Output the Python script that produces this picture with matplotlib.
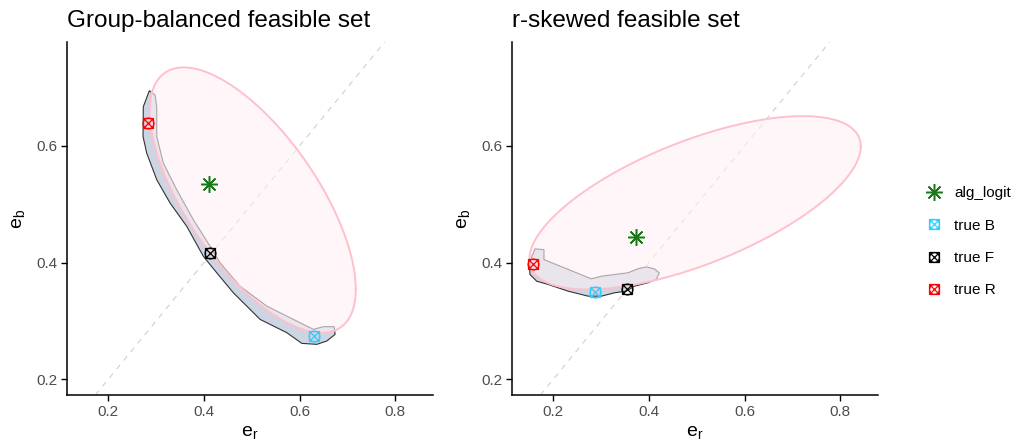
import numpy as np
import matplotlib
matplotlib.use("Agg")
import matplotlib.pyplot as plt
from matplotlib.patches import Polygon
from matplotlib.lines import Line2D

plt.rcParams['font.family'] = ['Liberation Sans', 'DejaVu Sans']

# ---------------- data ----------------
titles = ["Group-balanced feasible set", "r-skewed feasible set"]

# feasible-set outline (e_r, e_b)
band_left_x = [0.2858, 0.2732, 0.2726, 0.2803, 0.3013, 0.3291, 0.3640, 0.3987, 0.4268, 0.4615,
               0.5174, 0.5732, 0.6046, 0.6360, 0.6569, 0.6743, 0.6722,
               0.6498, 0.6289, 0.5870, 0.5314, 0.4755, 0.4337, 0.4128, 0.3778, 0.3431,
               0.3151, 0.3013, 0.3013, 0.2977]
band_left_y = [0.6945, 0.6672, 0.6159, 0.5875, 0.5419, 0.5021, 0.4621, 0.4108, 0.3824, 0.3482,
               0.3026, 0.2798, 0.2615, 0.2598, 0.2655, 0.2769, 0.2901,
               0.2901, 0.2855, 0.3026, 0.3253, 0.3595, 0.3995, 0.4279, 0.4735, 0.5248,
               0.5704, 0.6159, 0.6672, 0.6872]

band_right_x = [0.1617, 0.1804, 0.1804, 0.2797, 0.3005, 0.3281, 0.3560, 0.3768, 0.3941, 0.4113,
                0.4217, 0.4149, 0.3976, 0.3697, 0.3525, 0.3281, 0.3005, 0.2728, 0.2312, 0.1896,
                0.1653, 0.1513, 0.1492, 0.1584]
band_right_y = [0.4234, 0.4222, 0.4051, 0.3721, 0.3766, 0.3795, 0.3824, 0.3892, 0.3926, 0.3892,
                0.3824, 0.3709, 0.3653, 0.3595, 0.3509, 0.3482, 0.3424, 0.3424, 0.3509, 0.3624,
                0.3680, 0.3795, 0.3995, 0.4166]

# ellipse: centre, half-extent in x and y, correlation
ell_left = dict(cx=0.502, cy=0.507, hx=0.2155, hy=0.2275, rho=-0.67)
ell_right = dict(cx=0.4965, cy=0.5025, hx=0.3465, hy=0.1485, rho=0.65)

# points: alg_logit, true B, true F, true R
point_labels = ["alg_logit", "true B", "true F", "true R"]
pts_left_x = [0.411, 0.631, 0.413, 0.284]
pts_left_y = [0.534, 0.274, 0.417, 0.639]
pts_right_x = [0.373, 0.288, 0.354, 0.157]
pts_right_y = [0.443, 0.350, 0.355, 0.398]

point_colors = ["#1a7a1a", "#33ccff", "black", "red"]

xticks = [0.2, 0.4, 0.6, 0.8]
yticks = [0.2, 0.4, 0.6]

# ---------------- figure ----------------
fig = plt.figure(figsize=(10.16, 4.41), dpi=100)
axL = fig.add_axes([67/1016, 1-395/441, 366/1016, 353/441])
axR = fig.add_axes([512/1016, 1-395/441, 366/1016, 353/441])

t = np.linspace(0, 2*np.pi, 400)
MS = 7.8

def boxed_x(ax, x, y, c, ms=MS):
    for m in ['s', 'o', 'x']:
        ax.plot(x, y, marker=m, ms=ms, mfc='none', mec=c, mew=0.9, ls='none', zorder=6)

star_marker = (8, 2, 0)

for ax, title, bx, by, el, px, py in [
        (axL, titles[0], band_left_x, band_left_y, ell_left, pts_left_x, pts_left_y),
        (axR, titles[1], band_right_x, band_right_y, ell_right, pts_right_x, pts_right_y)]:
    ax.axline((0, 0), (1, 1), color='#d0d0d0', lw=0.8, ls=(0, (5, 5)), zorder=1)
    poly = Polygon(np.column_stack([bx, by]), closed=True, facecolor='#cdd5e3',
                   edgecolor='#333333', lw=0.8, zorder=2)
    ax.add_patch(poly)
    ex = el['cx'] + el['hx'] * np.cos(t)
    ey = el['cy'] + el['hy'] * (el['rho'] * np.cos(t) + np.sqrt(1 - el['rho']**2) * np.sin(t))
    ax.fill(ex, ey, facecolor='#fff0f5', alpha=0.6, edgecolor='none', zorder=3)
    ax.plot(ex, ey, color='#ffc0cb', lw=1.4, zorder=4)

    ax.plot(px[0], py[0], marker=star_marker, ms=12, mec=point_colors[0], mew=1.1,
            ls='none', zorder=6)
    for i in range(1, 4):
        boxed_x(ax, px[i], py[i], point_colors[i])

    ax.set_xlim(0.1136, 0.879)
    ax.set_ylim(0.173, 0.778)
    ax.set_xticks(xticks)
    ax.set_yticks(yticks)
    ax.set_xticklabels([f"{v:.1f}" for v in xticks])
    ax.set_yticklabels([f"{v:.1f}" for v in yticks])
    for s in ['top', 'right']:
        ax.spines[s].set_visible(False)
    for s in ['left', 'bottom']:
        ax.spines[s].set_linewidth(1.1)
        ax.spines[s].set_color('black')
    ax.tick_params(axis='both', colors='#4d4d4d', labelsize=11, length=4, width=1.0,
                   pad=3)
    ax.tick_params(axis='both', color='black')
    ax.set_xlabel(r'e$_\mathregular{r}$', fontsize=14, labelpad=4)
    ax.set_ylabel(r'e$_\mathregular{b}$', fontsize=14, labelpad=6)
    ax.set_title(title, loc='left', fontsize=17.5, pad=11)

# legend
handles = [Line2D([], [], marker=star_marker, ms=12, mec=point_colors[0], mew=1.1, ls='none')]
for i in range(1, 4):
    c = point_colors[i]
    handles.append(tuple(Line2D([], [], marker=m, ms=7, mfc='none', mec=c, mew=0.9, ls='none')
                         for m in ['s', 'o', 'x']))
fig.legend(handles, point_labels, loc='center left', bbox_to_anchor=(910/1016, 1-242/441),
           frameon=False, fontsize=11, labelspacing=1.2, handletextpad=0.6,
           handlelength=1.4)

fig.savefig('out.png', dpi=100)
